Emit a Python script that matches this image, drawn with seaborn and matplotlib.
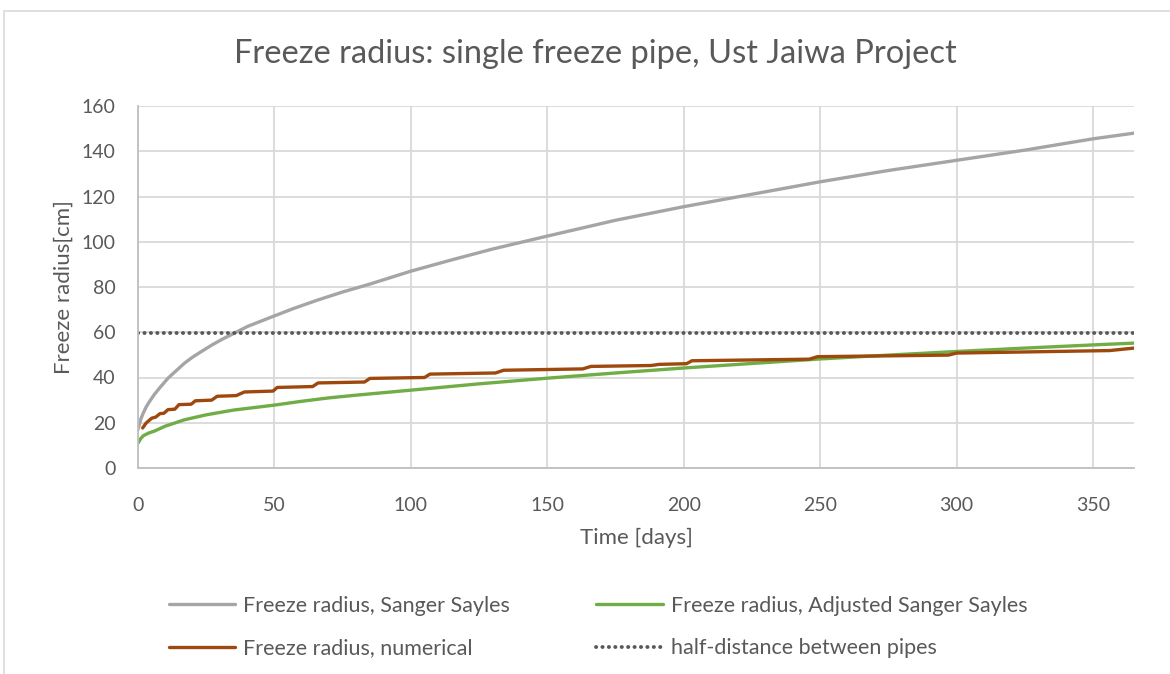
import matplotlib
matplotlib.use("Agg")
import matplotlib.pyplot as plt
from matplotlib.patches import Rectangle
from matplotlib.lines import Line2D
import seaborn as sns

# Series (days -> freeze radius in cm)
days_ss = [0, 1, 2, 3, 4, 6, 8, 11, 14, 17, 20, 23, 27, 31, 35, 40, 48, 57, 66, 75, 85,
           100, 115, 130, 150, 175, 200, 225, 250, 275, 300, 325, 350, 365]
radius_ss = [17, 21.5, 24.5, 27, 29, 32.5, 35.5, 39.7, 43, 46.3, 49, 51.3, 54.3, 57, 59.4,
             62.5, 66.3, 70.5, 74.3, 77.8, 81.3, 87, 92, 96.8, 102.5, 109.5, 115.5, 121,
             126.5, 131.5, 136, 140.5, 145.5, 148]

days_adj = [0, 1, 2, 4, 6, 10, 17, 25, 35, 50, 60, 70, 80, 90, 100, 125, 150, 175, 200,
            225, 250, 275, 300, 325, 350, 365]
radius_adj = [11, 13, 14.3, 15.5, 16.3, 18.5, 21.3, 23.5, 25.6, 27.8, 29.5, 31, 32.2, 33.3,
              34.4, 37.2, 39.7, 42, 44.2, 46.2, 48.2, 49.9, 51.5, 53, 54.4, 55.2]

days_num = [1.7, 3, 5, 6.5, 8, 9.5, 11, 13.5, 15, 19.5, 21, 27, 29, 36, 39, 49.5, 51, 64,
            66, 83, 85, 105, 107, 131, 134, 163, 166, 188, 191, 201, 203, 246, 249, 297,
            300, 356, 365]
radius_num = [17.7, 19.9, 22, 22.5, 24, 24.2, 25.8, 26, 28, 28.2, 29.7, 30, 31.7, 32,
              33.6, 34, 35.6, 36, 37.6, 38, 39.6, 40, 41.5, 42, 43.2, 43.8, 44.9, 45.3,
              45.8, 46.1, 47.4, 48.1, 49.2, 49.9, 50.8, 51.9, 53]

half_distance = 59.5
x_ticks = [0, 50, 100, 150, 200, 250, 300, 350]
y_ticks = [0, 20, 40, 60, 80, 100, 120, 140, 160]

labels = ["Freeze radius, Sanger Sayles", "Freeze radius, numerical",
          "Freeze radius, Adjusted Sanger Sayles", "half-distance between pipes"]

sns.set_style("white")
plt.rcParams["font.family"] = ["Lato", "DejaVu Sans"]

text_col = "#595959"
grid_col = "#d9d9d9"
c_gray, c_green, c_brown, c_dot = "#a5a5a5", "#70ad47", "#9e480e", "#595959"
dotted = (0, (0.05, 1.6))

fig = plt.figure(figsize=(11.7, 6.74), dpi=100)
ax = fig.add_axes([138 / 1170, 1 - 468 / 674, (1134 - 138) / 1170, (468 - 106) / 674])

# outer chart border
fig.patches.append(Rectangle((4 / 1170, -0.1), 1.2, 1.1 - 11 / 674, transform=fig.transFigure,
                             fill=False, edgecolor=grid_col, lw=1.2))

sns.lineplot(x=days_ss, y=radius_ss, ax=ax, color=c_gray, lw=2.4)
sns.lineplot(x=days_adj, y=radius_adj, ax=ax, color=c_green, lw=2.4)
sns.lineplot(x=days_num, y=radius_num, ax=ax, color=c_brown, lw=2.4)
ax.axhline(half_distance, color=c_dot, lw=2.8, ls=dotted, dash_capstyle="round")

ax.set_xlim(0, 365)
ax.set_ylim(0, 160)
ax.set_xticks(x_ticks)
ax.set_yticks(y_ticks)
ax.grid(True, color=grid_col, lw=1.3)
ax.set_axisbelow(True)
for s in ["top", "right"]:
    ax.spines[s].set_visible(False)
for s in ["left", "bottom"]:
    ax.spines[s].set_color("#bfbfbf")
    ax.spines[s].set_linewidth(1.3)
ax.tick_params(length=0, labelsize=14, labelcolor=text_col)
ax.tick_params(axis="y", pad=16)
ax.tick_params(axis="x", pad=21)

ax.set_xlabel("Time [days]", fontsize=16, color=text_col, labelpad=10)
ax.set_ylabel("Freeze radius[cm]", fontsize=16, color=text_col, labelpad=6)
fig.text(595 / 1170, 1 - 54 / 674, "Freeze radius: single freeze pipe, Ust Jaiwa Project",
         ha="center", va="center", fontsize=23.5, color=text_col)

handles = [Line2D([], [], color=c_gray, lw=2.4),
           Line2D([], [], color=c_brown, lw=2.4),
           Line2D([], [], color=c_green, lw=2.4),
           Line2D([], [], color=c_dot, lw=2.8, ls=dotted, dash_capstyle="round")]
fig.legend(handles, labels, ncol=2, loc="center", bbox_to_anchor=(598 / 1170, 1 - 627 / 674),
           frameon=False, fontsize=15.5, labelcolor=text_col, handlelength=3.1,
           handletextpad=0.36, columnspacing=4.0, labelspacing=1.05)

fig.savefig("out.png", dpi=100)
